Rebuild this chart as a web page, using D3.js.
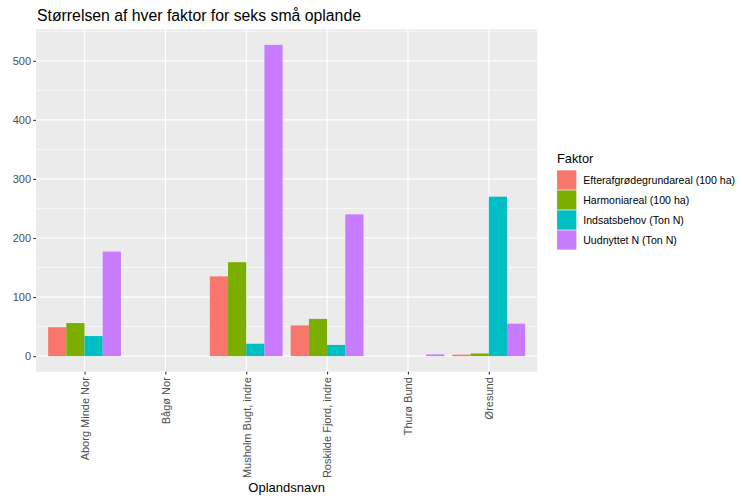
<!DOCTYPE html>
<html>
<head>
<meta charset="utf-8">
<script src="https://cdn.jsdelivr.net/npm/d3@7"></script>
<style>
  html, body { margin: 0; padding: 0; background: #ffffff; }
  svg { display: block; font-family: "Liberation Sans", Arial, sans-serif; }
</style>
</head>
<body>
<svg id="chart" width="742" height="501"></svg>
<script>
// ---- data ----
const categories = ["Aborg Minde Nor", "Bågø Nor", "Musholm Bugt, indre", "Roskilde Fjord, indre", "Thurø Bund", "Øresund"];
const factors = ["Efterafgrødegrundareal (100 ha)", "Harmoniareal (100 ha)", "Indsatsbehov (Ton N)", "Uudnyttet N (Ton N)"];
const efterafgroede = [49, null, 135, 52, null, 2.5];
const harmoniareal = [56, null, 159, 63, null, 4.5];
const indsatsbehov = [34, null, 21, 19, null, 270];
const uudnyttetN = [177, null, 527, 240, 3, 55];
const yTicks = [0, 100, 200, 300, 400, 500];
const colors = ["#F8766D", "#7CAE00", "#00BFC4", "#C77CFF"];
const titleText = "Størrelsen af hver faktor for seks små oplande";
const xTitle = "Oplandsnavn";
const legendTitle = "Faktor";

const seriesValues = [efterafgroede, harmoniareal, indsatsbehov, uudnyttetN];

// ---- layout ----
const svg = d3.select("#chart");
const panel = { left: 36, right: 537.3, top: 29.3, bottom: 371.7 };

const allVals = seriesValues.flat().filter(v => v != null);
const vmax = d3.max(allVals), vmin = Math.min(0, d3.min(allVals));
const pad = (vmax - vmin) * 0.05;
const y = d3.scaleLinear().domain([vmin - pad, vmax + pad]).range([panel.bottom, panel.top]);
const x = d3.scalePoint().domain(categories).range([panel.left, panel.right]).padding(0.6);
const step = x.step();
const xInner = d3.scaleBand().domain(factors).range([-0.45 * step, 0.45 * step]).paddingInner(0);
const color = d3.scaleOrdinal().domain(factors).range(colors);

// panel background
svg.append("rect")
  .attr("x", panel.left).attr("y", panel.top)
  .attr("width", panel.right - panel.left).attr("height", panel.bottom - panel.top)
  .attr("fill", "#EBEBEB");

// minor grid
const minorTicks = [];
for (let i = 0; i < yTicks.length; i++) {
  const m = yTicks[i] + 50;
  if (y(m) >= panel.top) minorTicks.push(m);
}
svg.append("g").selectAll("line").data(minorTicks).join("line")
  .attr("x1", panel.left).attr("x2", panel.right)
  .attr("y1", d => y(d)).attr("y2", d => y(d))
  .attr("stroke", "#ffffff").attr("stroke-width", 0.6);

// major grid
svg.append("g").selectAll("line").data(yTicks).join("line")
  .attr("x1", panel.left).attr("x2", panel.right)
  .attr("y1", d => y(d)).attr("y2", d => y(d))
  .attr("stroke", "#ffffff").attr("stroke-width", 1.2);
svg.append("g").selectAll("line").data(categories).join("line")
  .attr("x1", d => x(d)).attr("x2", d => x(d))
  .attr("y1", panel.top).attr("y2", panel.bottom)
  .attr("stroke", "#ffffff").attr("stroke-width", 1.2);

// bars
const barData = [];
categories.forEach((c, i) => {
  factors.forEach((f, j) => {
    const v = seriesValues[j][i];
    if (v != null) barData.push({ c, f, v });
  });
});
svg.append("g").selectAll("rect").data(barData).join("rect")
  .attr("x", d => x(d.c) + xInner(d.f))
  .attr("width", xInner.bandwidth())
  .attr("y", d => y(Math.max(0, d.v)))
  .attr("height", d => Math.abs(y(0) - y(d.v)))
  .attr("fill", d => color(d.f));

// y axis
const yAxis = svg.append("g").attr("transform", `translate(${panel.left},0)`)
  .call(d3.axisLeft(y).tickValues(yTicks).tickSize(2.75).tickPadding(2.2).tickFormat(d3.format("d")));
yAxis.select(".domain").remove();
yAxis.selectAll("line").attr("stroke", "#333333").attr("stroke-width", 1.1);
yAxis.selectAll("text").attr("fill", "#4D4D4D").style("font-size", "11px")
  .style("font-family", "'Liberation Sans', Arial, sans-serif");

// x axis
const xAxis = svg.append("g").attr("transform", `translate(0,${panel.bottom})`)
  .call(d3.axisBottom(x).tickSize(2.75).tickPadding(0));
xAxis.select(".domain").remove();
xAxis.selectAll("line").attr("stroke", "#333333").attr("stroke-width", 1.1);
xAxis.selectAll("text")
  .attr("fill", "#4D4D4D").style("font-size", "11px")
  .style("font-family", "'Liberation Sans', Arial, sans-serif")
  .attr("transform", "rotate(-90)")
  .attr("text-anchor", "end")
  .attr("x", -5.5).attr("y", 0).attr("dy", "0.35em");

// title
svg.append("text").attr("x", 37).attr("y", 21)
  .attr("fill", "#000000").style("font-size", "15.8px")
  .text(titleText);

// x axis title
svg.append("text").attr("x", (panel.left + panel.right) / 2).attr("y", 492)
  .attr("text-anchor", "middle").attr("fill", "#000000").style("font-size", "13px")
  .text(xTitle);

// legend
const legend = svg.append("g");
legend.append("text").attr("x", 557).attr("y", 163)
  .attr("fill", "#000000").style("font-size", "12.8px").text(legendTitle);
const keyH = 20, keyTop = 170;
const items = legend.selectAll("g.item").data(factors).join("g").attr("class", "item")
  .attr("transform", (d, i) => `translate(556.7,${keyTop + i * keyH})`);
items.append("rect").attr("x", 0).attr("y", 0).attr("width", 20).attr("height", keyH)
  .attr("fill", "#F2F2F2");
items.append("rect").attr("x", 0.4).attr("y", 0.4).attr("width", 19.2).attr("height", keyH - 0.8)
  .attr("fill", d => color(d));
items.append("text").attr("x", 26.5).attr("y", keyH / 2).attr("dy", "0.35em")
  .attr("fill", "#000000").style("font-size", "10.6px").text(d => d);
</script>
</body>
</html>
